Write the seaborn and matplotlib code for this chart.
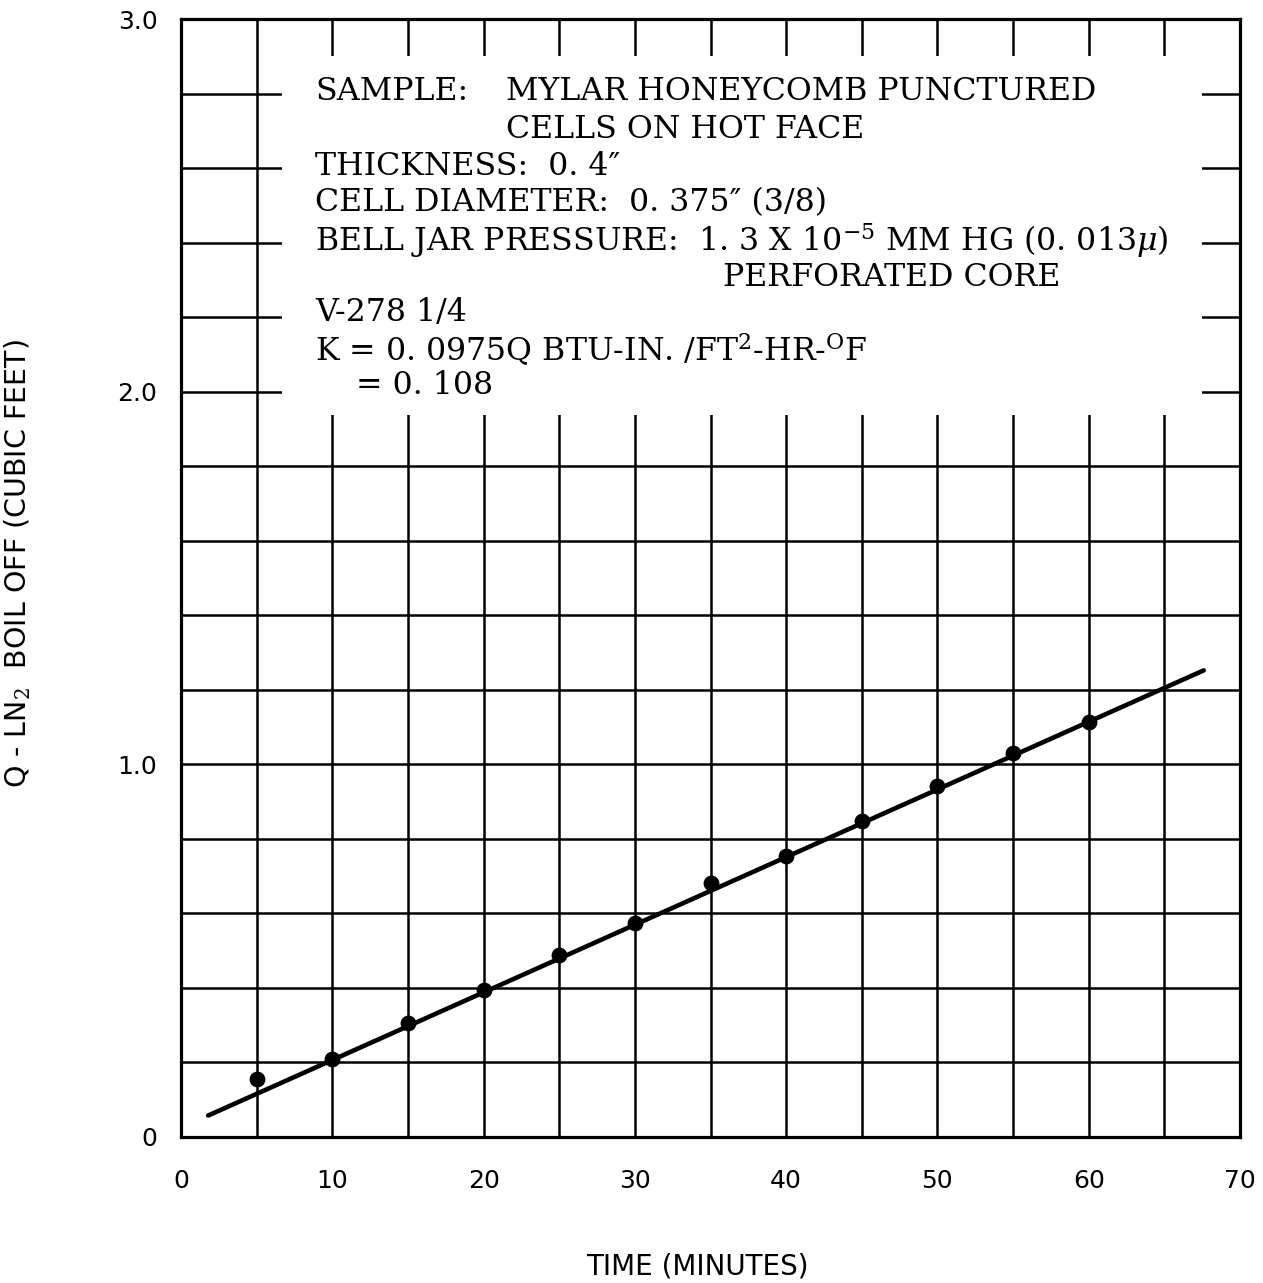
import numpy as np
import pandas as pd
import matplotlib
matplotlib.use("Agg")
import matplotlib.pyplot as plt
import seaborn as sns
from matplotlib.patches import Rectangle

# measured boil-off points (minutes, cubic feet)
time_min = [5, 10, 15, 20, 25, 30, 35, 40, 45, 50, 55, 60]
boil_off = [0.155, 0.21, 0.305, 0.395, 0.487, 0.574, 0.682, 0.755, 0.848, 0.942, 1.029, 1.114]

# hand-drawn fit line end points
fit_time = [1.8, 67.6]
fit_q = [0.057, 1.252]

x_ticks = list(range(0, 71, 5))
x_labels = [str(t) if t % 10 == 0 else "" for t in x_ticks]
y_ticks = [round(0.2 * i, 1) for i in range(16)]
y_labels = {0.0: "0", 1.0: "1.0", 2.0: "2.0", 3.0: "3.0"}

sns.set_theme(style="whitegrid")
plt.rcParams["font.family"] = ["DejaVu Sans"]
plt.rcParams["mathtext.fontset"] = "dejavuserif"

pts = pd.DataFrame({"time": time_min, "q": boil_off})
fit = pd.DataFrame({"time": fit_time, "q": fit_q})

fig = plt.figure(figsize=(12.63, 12.83), dpi=100)
ax = fig.add_axes([0.1433, 0.114, 0.8385, 0.871])

sns.lineplot(data=fit, x="time", y="q", color="black", lw=3.3, ax=ax, zorder=3)
sns.scatterplot(data=pts, x="time", y="q", color="black", s=130, edgecolor="black",
                linewidth=0, ax=ax, zorder=4)

ax.set_xlim(0, 70)
ax.set_ylim(0, 3.0)
ax.set_xticks(x_ticks)
ax.set_xticklabels(x_labels)
ax.set_yticks(y_ticks)
ax.set_yticklabels([y_labels.get(v, "") for v in y_ticks])
ax.tick_params(axis="both", length=0, labelsize=18, colors="black")
ax.tick_params(axis="y", pad=17)
ax.tick_params(axis="x", pad=23)
ax.grid(True, color="black", lw=1.8)
ax.set_axisbelow(True)
for sp in ax.spines.values():
    sp.set_color("black")
    sp.set_linewidth(2.3)

ax.set_xlabel("TIME (MINUTES)", fontsize=20, color="black")
ax.set_ylabel("Q - LN$_2$  BOIL OFF (CUBIC FEET)", fontsize=20.5, color="black")
ax.xaxis.set_label_coords(0.488, -0.104)
ax.yaxis.set_label_coords(-0.1396, 0.513)

# white panel behind the sample notes
ax.add_patch(Rectangle((6.7, 1.938), 60.8, 0.962, facecolor="white", edgecolor="none", zorder=2))

serif = dict(family="DejaVu Serif", fontsize=22.8, color="black", va="center", ha="left", zorder=5)
ax.text(8.85, 2.805, "SAMPLE:", **serif)
ax.text(21.5, 2.805, "MYLAR HONEYCOMB PUNCTURED", **serif)
ax.text(21.5, 2.705, "CELLS ON HOT FACE", **serif)
ax.text(8.85, 2.606, "THICKNESS:  0. 4\u2033", **serif)
ax.text(8.85, 2.507, "CELL DIAMETER:  0. 375\u2033 (3/8)", **serif)
ax.text(8.85, 2.407, "BELL JAR PRESSURE:  1. 3 X 10$^{-5}$ MM HG (0. 013$\\mu$)", **serif)
ax.text(35.8, 2.308, "PERFORATED CORE", **serif)
ax.text(8.85, 2.214, "V-278 1/4", **serif)
ax.text(8.85, 2.112, "K = 0. 0975Q BTU-IN. /FT$^{2}$-HR-$^{\\rm O}$F", **serif)
ax.text(11.6, 2.016, "= 0. 108", **serif)

fig.savefig("out.png", dpi=100, facecolor="white")
